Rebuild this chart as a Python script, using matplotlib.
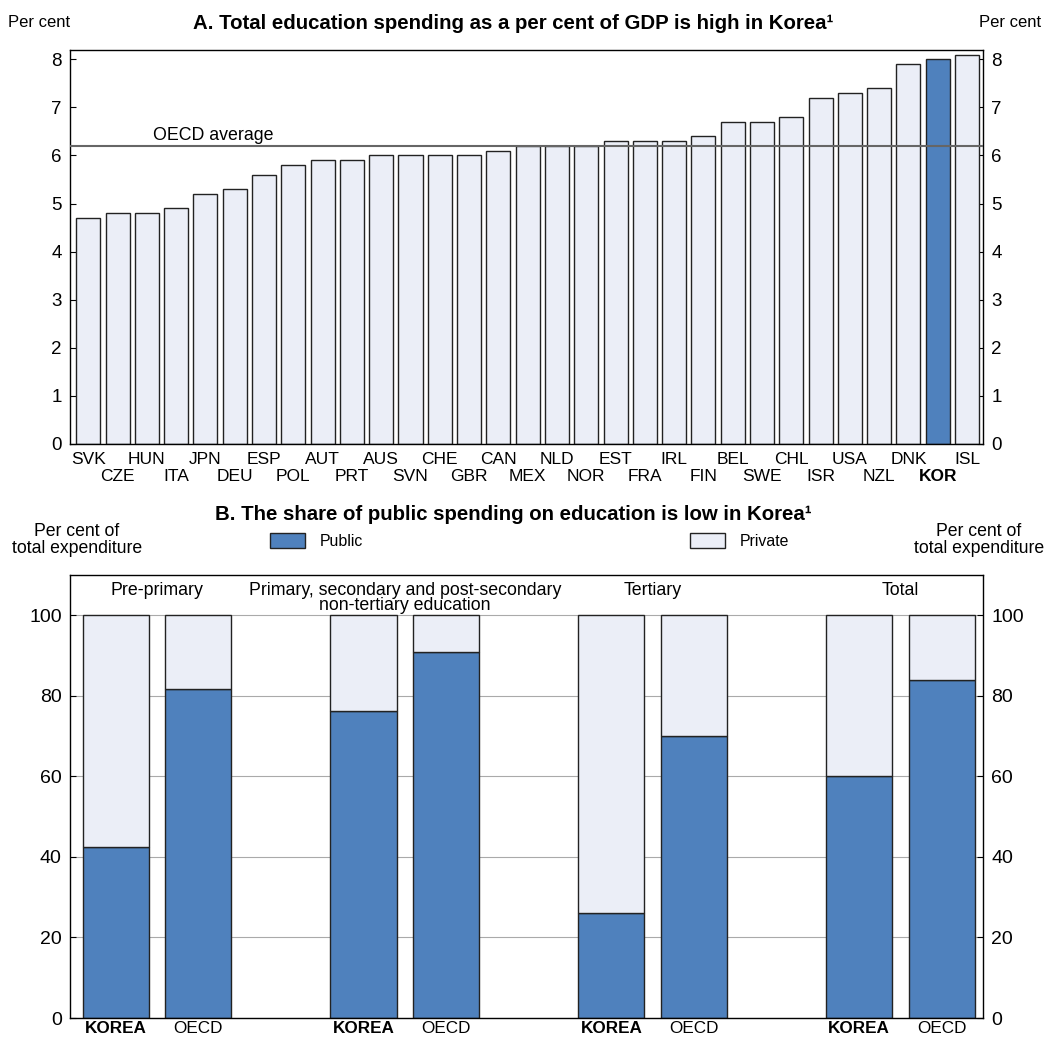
import matplotlib
matplotlib.use("Agg")
import matplotlib.pyplot as plt
import numpy as np
from matplotlib.patches import Patch

plt.rcParams['font.family'] = ['Liberation Sans', 'DejaVu Sans']

# Panel A data
countries = ['SVK', 'CZE', 'HUN', 'ITA', 'JPN', 'DEU', 'ESP', 'POL', 'AUT', 'PRT',
             'AUS', 'SVN', 'CHE', 'GBR', 'CAN', 'MEX', 'NLD', 'NOR', 'EST', 'FRA',
             'IRL', 'FIN', 'BEL', 'SWE', 'CHL', 'ISR', 'USA', 'NZL', 'DNK', 'KOR', 'ISL']
spending = [4.7, 4.8, 4.8, 4.9, 5.2, 5.3, 5.6, 5.8, 5.9, 5.9,
            6.0, 6.0, 6.0, 6.0, 6.1, 6.2, 6.2, 6.2, 6.3, 6.3,
            6.3, 6.4, 6.7, 6.7, 6.8, 7.2, 7.3, 7.4, 7.9, 8.0, 8.1]
oecd_avg = 6.2

# Panel B data
levels = ['Pre-primary', 'Primary, secondary and post-secondary\nnon-tertiary education',
          'Tertiary', 'Total']
korea_public = [42.5, 76.2, 26.0, 60.0]
oecd_public = [81.7, 91.0, 70.0, 84.0]

BLUE = '#4F81BD'
LIGHT = '#EBEEF7'
EDGE = '#222222'

fig = plt.figure(figsize=(10.47, 10.37), dpi=100)

# ---------------- Panel A ----------------
axA = fig.add_axes([0.067, 0.572, 0.872, 0.380])
x = np.arange(len(countries))
colors = [BLUE if c == 'KOR' else LIGHT for c in countries]
axA.bar(x, spending, width=0.82, color=colors, edgecolor=EDGE, linewidth=1.0, zorder=2)
axA.axhline(oecd_avg, color='#666666', linewidth=1.5, zorder=3)
axA.text(2.2, oecd_avg + 0.04, 'OECD average', fontsize=12.8, ha='left', va='bottom')
axA.set_xlim(-0.62, 30.55)
axA.set_ylim(0, 8.2)
axA.set_yticks(range(0, 9))
axA.tick_params(axis='y', direction='in', length=4, labelsize=13.5, right=True,
                labelright=True, pad=6)
axA.set_xticks([])
for i, c in enumerate(countries):
    ypos = -0.17 if i % 2 == 0 else -0.53
    axA.text(i, ypos, c, ha='center', va='top', fontsize=12.5,
             fontweight='bold' if c == 'KOR' else 'normal')
for s in axA.spines.values():
    s.set_linewidth(1.0)

fig.text(0.49, 0.977, 'A. Total education spending as a per cent of GDP is high in Korea¹',
         ha='center', va='center', fontsize=14.7, fontweight='bold')
fig.text(0.008, 0.978, 'Per cent', ha='left', va='center', fontsize=12)
fig.text(0.994, 0.978, 'Per cent', ha='right', va='center', fontsize=12)

# ---------------- Panel B ----------------
axB = fig.add_axes([0.067, 0.0183, 0.872, 0.4272])
kx = np.array([0, 3, 6, 9])
ox = kx + 1
w = 0.8
korea_private = [100 - v for v in korea_public]
oecd_private = [100 - v for v in oecd_public]
axB.bar(kx, korea_public, width=w, color=BLUE, edgecolor=EDGE, linewidth=1.0, zorder=2)
axB.bar(kx, korea_private, bottom=korea_public, width=w, color=LIGHT, edgecolor=EDGE,
        linewidth=1.0, zorder=2)
axB.bar(ox, oecd_public, width=w, color=BLUE, edgecolor=EDGE, linewidth=1.0, zorder=2)
axB.bar(ox, oecd_private, bottom=oecd_public, width=w, color=LIGHT, edgecolor=EDGE,
        linewidth=1.0, zorder=2)
axB.set_xlim(-0.55, 10.5)
axB.set_ylim(0, 110)
axB.set_yticks(range(0, 101, 20))
axB.yaxis.grid(True, color='#AAAAAA', linewidth=0.8, zorder=0)
axB.set_axisbelow(True)
axB.tick_params(axis='y', direction='in', length=4, labelsize=14, right=True,
                labelright=True, pad=6)
axB.set_xticks([])
for k, o, lab in zip(kx, ox, levels):
    axB.text(k, -0.7, 'KOREA', ha='center', va='top', fontsize=12.3, fontweight='bold')
    axB.text(o, -0.7, 'OECD', ha='center', va='top', fontsize=12.3)
    axB.text((k + o) / 2, 108.2, lab, ha='center', va='top', fontsize=12.8,
             linespacing=0.8)
for s in axB.spines.values():
    s.set_linewidth(1.0)

fig.text(0.49, 0.504, 'B. The share of public spending on education is low in Korea¹',
         ha='center', va='center', fontsize=14.7, fontweight='bold')
fig.text(0.0735, 0.479, 'Per cent of\ntotal expenditure', ha='center', va='center',
         fontsize=12.7, linespacing=1.0)
fig.text(0.935, 0.479, 'Per cent of\ntotal expenditure', ha='center', va='center',
         fontsize=12.7, linespacing=1.0)

legend_kw = dict(frameon=False, fontsize=11.4, handlelength=2.2, handleheight=1.08,
                 handletextpad=0.95, borderpad=0, borderaxespad=0, loc='center left')
fig.legend(handles=[Patch(facecolor=BLUE, edgecolor=EDGE, label='Public')],
           bbox_to_anchor=(0.258, 0.478), **legend_kw)
fig.legend(handles=[Patch(facecolor=LIGHT, edgecolor=EDGE, label='Private')],
           bbox_to_anchor=(0.659, 0.478), **legend_kw)

fig.savefig('out.png', dpi=100)
